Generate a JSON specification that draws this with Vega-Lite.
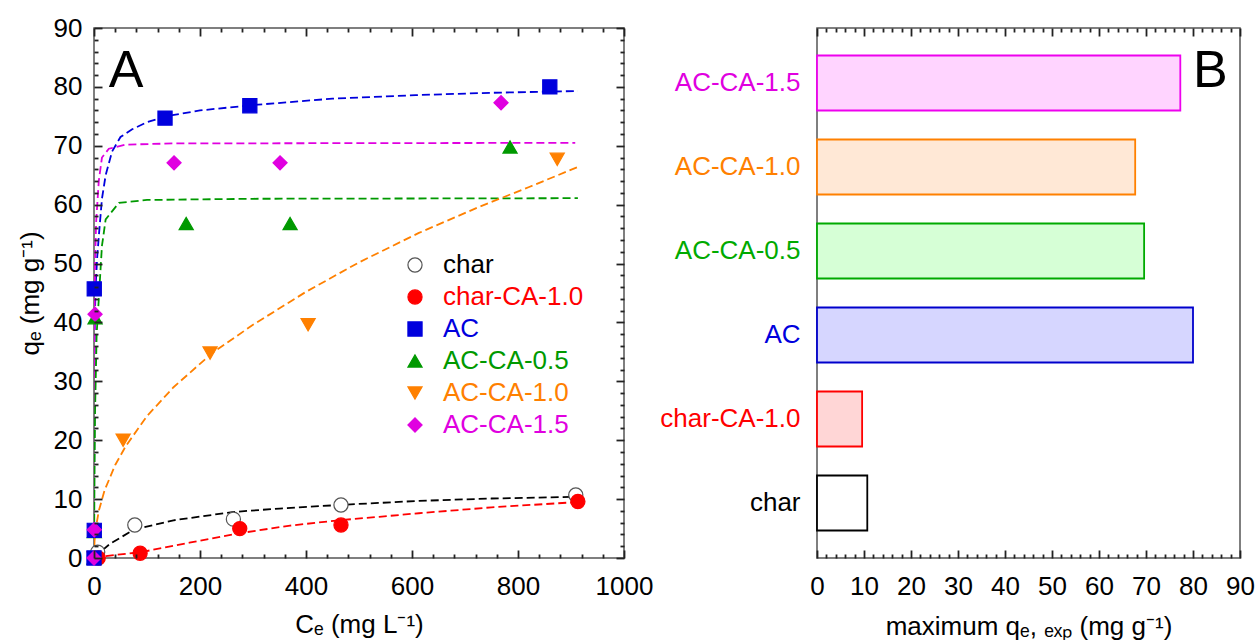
{
  "$schema": "https://vega.github.io/schema/vega-lite/v6.json",
  "background": "white",
  "padding": {"left": 16, "top": 14, "right": 14, "bottom": 0},
  "spacing": 5,
  "resolve": {
    "scale": {"fill": "independent", "stroke": "independent", "color": "independent", "shape": "independent"},
    "legend": {"fill": "independent", "stroke": "independent", "color": "independent", "shape": "independent"}
  },
  "config": {
    "font": "Liberation Sans",
    "view": {"stroke": "#555555", "strokeWidth": 1.5, "fill": "transparent"},
    "axis": {"zindex": 2, "ticks": true, "labelFont": "Liberation Sans", "titleFont": "Liberation Sans", "labelFontSize": 26, "titleFontSize": 26, "titleFontWeight": "normal", "labelColor": "black", "titleColor": "black", "domainColor": "#555555", "tickColor": "#222222", "tickOpacity": 1, "domainWidth": 1.5, "tickWidth": 1.8, "grid": false}
  },
  "datasets": {
    "pts": [
      {"sample": "char", "Ce": 7, "qe": 1.0},
      {"sample": "char", "Ce": 77, "qe": 5.6},
      {"sample": "char", "Ce": 263, "qe": 6.6},
      {"sample": "char", "Ce": 466, "qe": 9.0},
      {"sample": "char", "Ce": 909, "qe": 10.7},
      {"sample": "char-CA-1.0", "Ce": 8, "qe": 0},
      {"sample": "char-CA-1.0", "Ce": 87, "qe": 0.8},
      {"sample": "char-CA-1.0", "Ce": 275, "qe": 5.0},
      {"sample": "char-CA-1.0", "Ce": 466, "qe": 5.6},
      {"sample": "char-CA-1.0", "Ce": 913, "qe": 9.6},
      {"sample": "AC-CA-1.0", "Ce": 0, "qe": 0},
      {"sample": "AC-CA-1.0", "Ce": 55, "qe": 20.0},
      {"sample": "AC-CA-1.0", "Ce": 219, "qe": 34.8},
      {"sample": "AC-CA-1.0", "Ce": 404, "qe": 39.6},
      {"sample": "AC-CA-1.0", "Ce": 874, "qe": 67.7},
      {"sample": "AC-CA-0.5", "Ce": 0, "qe": 0},
      {"sample": "AC-CA-0.5", "Ce": 0.5, "qe": 4.5},
      {"sample": "AC-CA-0.5", "Ce": 2, "qe": 40.8},
      {"sample": "AC-CA-0.5", "Ce": 174, "qe": 56.8},
      {"sample": "AC-CA-0.5", "Ce": 370, "qe": 56.8},
      {"sample": "AC-CA-0.5", "Ce": 785, "qe": 69.8},
      {"sample": "AC", "Ce": 0, "qe": 0},
      {"sample": "AC", "Ce": 0.5, "qe": 4.7},
      {"sample": "AC", "Ce": 0.5, "qe": 45.7},
      {"sample": "AC", "Ce": 134, "qe": 74.7},
      {"sample": "AC", "Ce": 294, "qe": 76.8},
      {"sample": "AC", "Ce": 860, "qe": 80.0},
      {"sample": "AC-CA-1.5", "Ce": 0, "qe": 0},
      {"sample": "AC-CA-1.5", "Ce": 0.5, "qe": 4.8},
      {"sample": "AC-CA-1.5", "Ce": 2, "qe": 41.4},
      {"sample": "AC-CA-1.5", "Ce": 151, "qe": 67.1},
      {"sample": "AC-CA-1.5", "Ce": 351, "qe": 67.1},
      {"sample": "AC-CA-1.5", "Ce": 768, "qe": 77.3}
    ],
    "fit": [
      {"sample": "char", "Ce": 0, "qe": 0},
      {"sample": "char", "Ce": 9, "qe": 0.8},
      {"sample": "char", "Ce": 30, "qe": 2.4},
      {"sample": "char", "Ce": 75, "qe": 4.8},
      {"sample": "char", "Ce": 150, "qe": 6.4},
      {"sample": "char", "Ce": 261, "qe": 7.8},
      {"sample": "char", "Ce": 350, "qe": 8.4},
      {"sample": "char", "Ce": 462, "qe": 9.0},
      {"sample": "char", "Ce": 613, "qe": 9.7},
      {"sample": "char", "Ce": 750, "qe": 10.1},
      {"sample": "char", "Ce": 913, "qe": 10.4},
      {"sample": "char-CA-1.0", "Ce": 0, "qe": 0},
      {"sample": "char-CA-1.0", "Ce": 9, "qe": 0.2},
      {"sample": "char-CA-1.0", "Ce": 89, "qe": 1.0},
      {"sample": "char-CA-1.0", "Ce": 180, "qe": 2.6},
      {"sample": "char-CA-1.0", "Ce": 274, "qe": 4.2},
      {"sample": "char-CA-1.0", "Ce": 370, "qe": 5.5},
      {"sample": "char-CA-1.0", "Ce": 462, "qe": 6.4},
      {"sample": "char-CA-1.0", "Ce": 538, "qe": 7.0},
      {"sample": "char-CA-1.0", "Ce": 613, "qe": 7.6},
      {"sample": "char-CA-1.0", "Ce": 750, "qe": 8.6},
      {"sample": "char-CA-1.0", "Ce": 913, "qe": 9.5},
      {"sample": "AC", "Ce": 0, "qe": 0},
      {"sample": "AC", "Ce": 0.3, "qe": 15},
      {"sample": "AC", "Ce": 0.7, "qe": 30},
      {"sample": "AC", "Ce": 1.5, "qe": 40},
      {"sample": "AC", "Ce": 3, "qe": 46},
      {"sample": "AC", "Ce": 6, "qe": 51},
      {"sample": "AC", "Ce": 9.4, "qe": 55},
      {"sample": "AC", "Ce": 15, "qe": 61},
      {"sample": "AC", "Ce": 22, "qe": 65},
      {"sample": "AC", "Ce": 34, "qe": 69},
      {"sample": "AC", "Ce": 50, "qe": 71.5},
      {"sample": "AC", "Ce": 72, "qe": 72.8},
      {"sample": "AC", "Ce": 100, "qe": 74},
      {"sample": "AC", "Ce": 136, "qe": 75},
      {"sample": "AC", "Ce": 200, "qe": 76},
      {"sample": "AC", "Ce": 298, "qe": 76.9},
      {"sample": "AC", "Ce": 450, "qe": 78},
      {"sample": "AC", "Ce": 607, "qe": 78.6},
      {"sample": "AC", "Ce": 750, "qe": 79},
      {"sample": "AC", "Ce": 913, "qe": 79.3},
      {"sample": "AC-CA-1.5", "Ce": 0, "qe": 0},
      {"sample": "AC-CA-1.5", "Ce": 0.5, "qe": 25},
      {"sample": "AC-CA-1.5", "Ce": 1, "qe": 40},
      {"sample": "AC-CA-1.5", "Ce": 2, "qe": 50},
      {"sample": "AC-CA-1.5", "Ce": 4, "qe": 57},
      {"sample": "AC-CA-1.5", "Ce": 9, "qe": 64},
      {"sample": "AC-CA-1.5", "Ce": 15, "qe": 68},
      {"sample": "AC-CA-1.5", "Ce": 28, "qe": 69.5},
      {"sample": "AC-CA-1.5", "Ce": 60, "qe": 70.2},
      {"sample": "AC-CA-1.5", "Ce": 150, "qe": 70.4},
      {"sample": "AC-CA-1.5", "Ce": 908, "qe": 70.5},
      {"sample": "AC-CA-0.5", "Ce": 0, "qe": 0},
      {"sample": "AC-CA-0.5", "Ce": 1, "qe": 15},
      {"sample": "AC-CA-0.5", "Ce": 2, "qe": 25},
      {"sample": "AC-CA-0.5", "Ce": 5, "qe": 38},
      {"sample": "AC-CA-0.5", "Ce": 9, "qe": 44},
      {"sample": "AC-CA-0.5", "Ce": 15, "qe": 53},
      {"sample": "AC-CA-0.5", "Ce": 22, "qe": 57.5},
      {"sample": "AC-CA-0.5", "Ce": 47, "qe": 60.3},
      {"sample": "AC-CA-0.5", "Ce": 100, "qe": 60.8},
      {"sample": "AC-CA-0.5", "Ce": 300, "qe": 61},
      {"sample": "AC-CA-0.5", "Ce": 913, "qe": 61.1},
      {"sample": "AC-CA-1.0", "Ce": 0, "qe": 0},
      {"sample": "AC-CA-1.0", "Ce": 1, "qe": 2.9},
      {"sample": "AC-CA-1.0", "Ce": 3, "qe": 4.8},
      {"sample": "AC-CA-1.0", "Ce": 9, "qe": 8.0},
      {"sample": "AC-CA-1.0", "Ce": 20, "qe": 11.5},
      {"sample": "AC-CA-1.0", "Ce": 40, "qe": 15.8},
      {"sample": "AC-CA-1.0", "Ce": 60, "qe": 19.0},
      {"sample": "AC-CA-1.0", "Ce": 100, "qe": 24.1},
      {"sample": "AC-CA-1.0", "Ce": 150, "qe": 29.0},
      {"sample": "AC-CA-1.0", "Ce": 223, "qe": 34.8},
      {"sample": "AC-CA-1.0", "Ce": 300, "qe": 39.6},
      {"sample": "AC-CA-1.0", "Ce": 400, "qe": 45.2},
      {"sample": "AC-CA-1.0", "Ce": 500, "qe": 50.2},
      {"sample": "AC-CA-1.0", "Ce": 613, "qe": 55.2},
      {"sample": "AC-CA-1.0", "Ce": 726, "qe": 59.6},
      {"sample": "AC-CA-1.0", "Ce": 821, "qe": 63.0},
      {"sample": "AC-CA-1.0", "Ce": 913, "qe": 66.4}
    ],
    "bars": [
      {"sample": "AC-CA-1.5", "qmax": 77.3},
      {"sample": "AC-CA-1.0", "qmax": 67.7},
      {"sample": "AC-CA-0.5", "qmax": 69.6},
      {"sample": "AC", "qmax": 80.0},
      {"sample": "char-CA-1.0", "qmax": 9.6},
      {"sample": "char", "qmax": 10.7}
    ],
    "panelA": [{"panel": "A"}],
    "panelB": [{"panel": "B"}]
  },
  "hconcat": [
    {
      "width": 530,
      "height": 530,
      "layer": [
        {
          "data": {"name": "fit"},
          "mark": {"type": "line", "strokeDash": [8, 4], "strokeWidth": 1.8, "clip": true},
          "encoding": {
            "x": {"field": "Ce", "type": "quantitative", "scale": {"domain": [0, 1000], "nice": false},
              "axis": {"orient": "bottom", "title": "Cₑ (mg L⁻¹)", "values": [0, 200, 400, 600, 800, 1000], "format": "d", "zindex": 2, "ticks": true,
                "domain": false, "offset": -8, "tickSize": 8, "labelPadding": 15, "titlePadding": 12, "labelFlush": false, "labelOverlap": false}},
            "y": {"field": "qe", "type": "quantitative", "scale": {"domain": [0, 90], "nice": false},
              "axis": {"orient": "left", "title": "qₑ (mg g⁻¹)", "values": [0, 10, 20, 30, 40, 50, 60, 70, 80, 90], "zindex": 2, "ticks": true,
                "domain": false, "offset": -8, "tickSize": 8, "labelPadding": 12, "titlePadding": 10, "labelFlush": false, "labelOverlap": false}},
            "color": {"field": "sample", "type": "nominal", "legend": null,
              "scale": {"domain": ["AC", "AC-CA-0.5", "AC-CA-1.0", "AC-CA-1.5", "char", "char-CA-1.0"], "range": ["#0000dd", "#009900", "#ff8000", "#e000e0", "#000000", "#ff0000"]}}
          }
        },
        {
          "data": {"name": "pts"},
          "mark": {"type": "point", "filled": true, "size": 200, "strokeWidth": 1.2, "opacity": 1},
          "encoding": {
            "x": {"field": "Ce", "type": "quantitative", "scale": {"domain": [0, 1000], "nice": false},
              "axis": {"orient": "top", "title": null, "labels": false, "domain": false, "offset": -8, "tickSize": 8, "zindex": 2, "ticks": true, "values": [0, 200, 400, 600, 800, 1000]}},
            "y": {"field": "qe", "type": "quantitative", "scale": {"domain": [0, 90], "nice": false},
              "axis": {"orient": "right", "title": null, "labels": false, "domain": false, "offset": -8, "tickSize": 8, "zindex": 2, "ticks": true, "values": [0, 10, 20, 30, 40, 50, 60, 70, 80, 90]}},
            "shape": {"field": "sample", "type": "nominal",
              "scale": {"domain": ["char", "char-CA-1.0", "AC", "AC-CA-0.5", "AC-CA-1.0", "AC-CA-1.5"], "range": ["circle", "circle", "square", "triangle-up", "triangle-down", "diamond"]},
              "legend": {"title": null, "orient": "none", "legendX": 308, "legendY": 224, "labelFontSize": 26, "labelFont": "Liberation Sans", "symbolSize": 200, "rowPadding": 6, "labelOffset": 15, "symbolStrokeWidth": 1.2,
                "labelColor": {"expr": "datum.value == 'char' ? '#000000' : datum.value == 'char-CA-1.0' ? '#ff0000' : datum.value == 'AC' ? '#0000dd' : datum.value == 'AC-CA-0.5' ? '#009900' : datum.value == 'AC-CA-1.0' ? '#ff8000' : '#e000e0'"}}},
            "fill": {"field": "sample", "type": "nominal",
              "scale": {"domain": ["char", "char-CA-1.0", "AC", "AC-CA-0.5", "AC-CA-1.0", "AC-CA-1.5"], "range": ["#ffffff", "#ff0000", "#0000dd", "#009900", "#ff8000", "#e000e0"]}},
            "stroke": {"field": "sample", "type": "nominal",
              "scale": {"domain": ["char", "char-CA-1.0", "AC", "AC-CA-0.5", "AC-CA-1.0", "AC-CA-1.5"], "range": ["#555555", "#ff0000", "#0000dd", "#009900", "#ff8000", "#e000e0"]}}
          }
        },
        {
          "data": {"name": "panelA"},
          "mark": {"type": "text", "fontSize": 52, "font": "Liberation Sans", "align": "left", "baseline": "alphabetic", "color": "black"},
          "encoding": {
            "text": {"field": "panel"},
            "x": {"datum": 28, "axis": {"orient": "bottom", "title": null, "labels": false, "domain": false, "offset": -4, "tickSize": 4, "zindex": 2, "ticks": true,
              "values": [40,80,120,160,240,280,320,360,440,480,520,560,640,680,720,760,840,880,920,960]}},
            "y": {"datum": 80, "axis": {"orient": "left", "title": null, "labels": false, "domain": false, "offset": -4, "tickSize": 4, "zindex": 2, "ticks": true,
              "values": [2,4,6,8,12,14,16,18,22,24,26,28,32,34,36,38,42,44,46,48,52,54,56,58,62,64,66,68,72,74,76,78,82,84,86,88]}}
          }
        },
        {
          "data": {"name": "pts"},
          "mark": {"type": "point", "opacity": 0},
          "encoding": {
            "x": {"field": "Ce", "type": "quantitative", "axis": {"orient": "top", "title": null, "labels": false, "domain": false, "offset": -4, "tickSize": 4, "zindex": 2, "ticks": true,
              "values": [40,80,120,160,240,280,320,360,440,480,520,560,640,680,720,760,840,880,920,960]}},
            "y": {"field": "qe", "type": "quantitative", "axis": {"orient": "right", "title": null, "labels": false, "domain": false, "offset": -4, "tickSize": 4, "zindex": 2, "ticks": true,
              "values": [2,4,6,8,12,14,16,18,22,24,26,28,32,34,36,38,42,44,46,48,52,54,56,58,62,64,66,68,72,74,76,78,82,84,86,88]}}
          }
        }
      ],
      "resolve": {"axis": {"x": "independent", "y": "independent"}}
    },
    {
      "width": 423,
      "height": 530,
      "layer": [
        {
          "data": {"name": "bars"},
          "mark": {"type": "bar", "strokeWidth": 1.8},
          "encoding": {
            "y": {"field": "sample", "type": "nominal", "sort": ["AC-CA-1.5", "AC-CA-1.0", "AC-CA-0.5", "AC", "char-CA-1.0", "char"],
              "scale": {"paddingInner": 0.345, "paddingOuter": 0.3275},
              "axis": {"title": null, "ticks": false, "domain": false, "labelPadding": 17, "labelFontSize": 26,
                "labelColor": {"expr": "datum.value == 'char' ? '#000000' : datum.value == 'char-CA-1.0' ? '#ff0000' : datum.value == 'AC' ? '#0000dd' : datum.value == 'AC-CA-0.5' ? '#00aa00' : datum.value == 'AC-CA-1.0' ? '#ff8000' : '#e000e0'"}}},
            "x": {"field": "qmax", "type": "quantitative", "scale": {"domain": [0, 90], "nice": false},
              "axis": {"orient": "bottom", "title": "maximum qₑ, ₑₓₚ (mg g⁻¹)", "values": [0, 10, 20, 30, 40, 50, 60, 70, 80, 90], "zindex": 2, "ticks": true,
                "domain": false, "offset": -8, "tickSize": 8, "labelPadding": 15, "titlePadding": 14, "labelFlush": false, "labelOverlap": false}},
            "fill": {"field": "sample", "type": "nominal", "legend": null,
              "scale": {"domain": ["char", "char-CA-1.0", "AC", "AC-CA-0.5", "AC-CA-1.0", "AC-CA-1.5"], "range": ["#ffffff", "#ffd6d6", "#d6d6ff", "#d6ffd6", "#ffe8d6", "#ffd4ff"]}},
            "stroke": {"field": "sample", "type": "nominal", "legend": null,
              "scale": {"domain": ["char", "char-CA-1.0", "AC", "AC-CA-0.5", "AC-CA-1.0", "AC-CA-1.5"], "range": ["#000000", "#ff0000", "#0000cc", "#00aa00", "#ff8000", "#ee00ee"]}}
          }
        },
        {
          "data": {"name": "panelB"},
          "mark": {"type": "text", "fontSize": 52, "font": "Liberation Sans", "align": "right", "baseline": "alphabetic", "color": "black"},
          "encoding": {
            "text": {"field": "panel"},
            "x": {"datum": 87.4, "type": "quantitative", "scale": {"domain": [0, 90], "nice": false},
              "axis": {"orient": "top", "title": null, "labels": false, "domain": false, "offset": -8, "tickSize": 8, "zindex": 2, "ticks": true, "values": [0, 10, 20, 30, 40, 50, 60, 70, 80, 90]}},
            "y": {"datum": 80, "type": "quantitative", "scale": {"domain": [0, 90], "nice": false}, "axis": null}
          }
        },
        {
          "data": {"name": "bars"},
          "mark": {"type": "point", "opacity": 0},
          "encoding": {
            "x": {"field": "qmax", "type": "quantitative",
              "axis": {"orient": "bottom", "title": null, "labels": false, "domain": false, "offset": -4, "tickSize": 4, "zindex": 2, "ticks": true,
                "values": [2,4,6,8,12,14,16,18,22,24,26,28,32,34,36,38,42,44,46,48,52,54,56,58,62,64,66,68,72,74,76,78,82,84,86,88]}}
          }
        },
        {
          "data": {"name": "bars"},
          "mark": {"type": "point", "opacity": 0},
          "encoding": {
            "x": {"field": "qmax", "type": "quantitative",
              "axis": {"orient": "top", "title": null, "labels": false, "domain": false, "offset": -4, "tickSize": 4, "zindex": 2, "ticks": true,
                "values": [2,4,6,8,12,14,16,18,22,24,26,28,32,34,36,38,42,44,46,48,52,54,56,58,62,64,66,68,72,74,76,78,82,84,86,88]}}
          }
        }
      ],
      "resolve": {"axis": {"x": "independent", "y": "independent"}, "scale": {"y": "independent"}}
    }
  ]
}
